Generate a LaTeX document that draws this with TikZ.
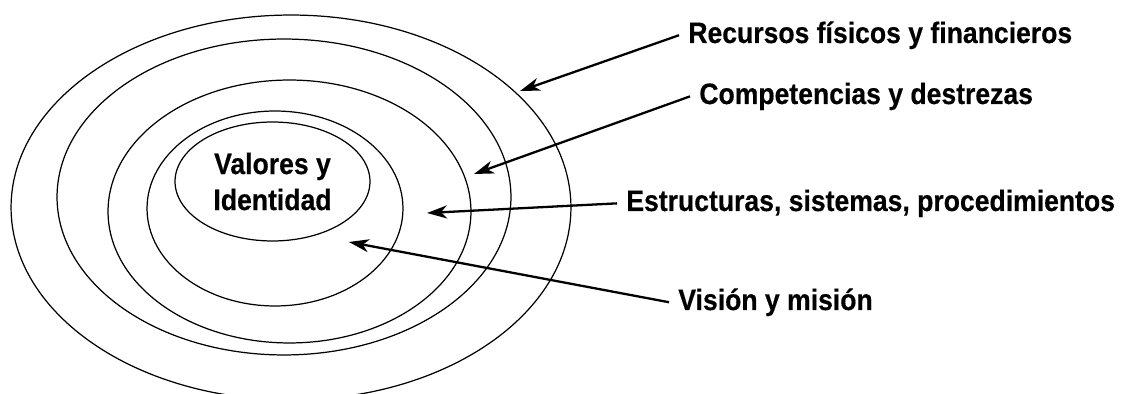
\documentclass[tikz,border=0pt]{standalone}
\usepackage{fontspec}
\setmainfont{Liberation Sans}[FakeStretch=0.9, FakeBold=0.4]
\usetikzlibrary{shapes.geometric, arrows.meta}

\begin{document}
\begin{tikzpicture}[x=0.02cm, y=-0.02cm,
  ring/.style={ellipse, draw, line width=0.7pt, inner sep=0},
  lbl/.style={anchor=base west, inner xsep=0.18cm, inner ysep=0, font=\fontsize{16.8}{20.5}\selectfont\bfseries},
  >={Stealth[length=0.4cm, width=0.26cm, inset=0.12cm]}]
\useasboundingbox (0,0) rectangle (1126,394);
\clip (0,0) rectangle (1126,394);
\node[ring, minimum width=11.2cm, minimum height=7.7cm] (1) at (291,207.5) {};
\node[ring, minimum width=9.08cm, minimum height=6.32cm] (2) at (284,197) {};
\node[ring, minimum width=7.26cm, minimum height=5.26cm] (3) at (289.5,211.5) {};
\node[ring, minimum width=5.12cm, minimum height=3.9cm] (4) at (275,208.5) {};
\node[ring, minimum width=3.9cm, minimum height=2.38cm, align=center, font=\fontsize{16.8}{20.5}\selectfont\bfseries] (5) at (272.5,181.5) {Valores y\\Identidad};
\node[lbl] (rec) at (679,43) {Recursos físicos y financieros};
\node[lbl] (com) at (690,104) {Competencias y destrezas};
\node[lbl] (est) at (617,211) {Estructuras, sistemas, procedimientos};
\node[lbl] (vis) at (669,310) {Visión y misión};
\coordinate (t1) at (520,91);
\coordinate (t2) at (474,174);
\coordinate (t3) at (427,213);
\coordinate (t4) at (349,242);
\draw[->, line width=1.3pt] (rec.west) -- (t1);
\draw[->, line width=1.3pt] (com.west) -- (t2);
\draw[->, line width=1.3pt] (est.west) -- (t3);
\draw[->, line width=1.3pt] (vis.west) -- (t4);
\end{tikzpicture}
\end{document}
